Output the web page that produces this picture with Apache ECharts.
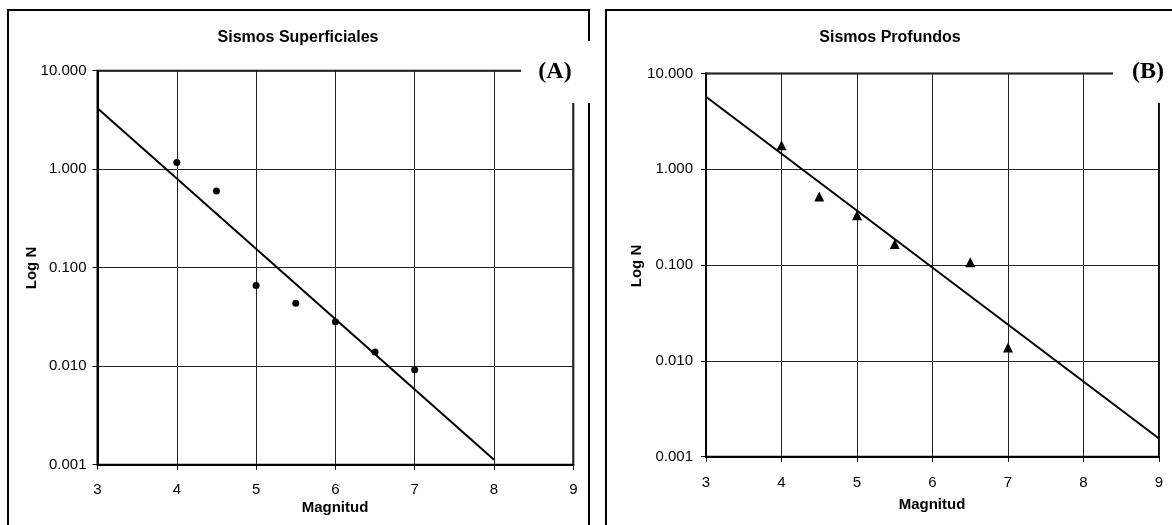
<!DOCTYPE html>
<html><head><meta charset="utf-8">
<script src="https://cdn.jsdelivr.net/npm/echarts@6/dist/echarts.min.js"></script>
<style>html,body{margin:0;padding:0;background:#fff}#c{width:1172px;height:525px}</style>
</head><body><div id="c"></div>
<script>
// Panel A: Sismos Superficiales
const magA = [4, 4.5, 5, 5.5, 6, 6.5, 7];
const nA = [1.17, 0.60, 0.066, 0.0435, 0.0282, 0.0139, 0.0092];
const trendA = [[3, 4.15], [8, 0.00112]];
// Panel B: Sismos Profundos
const magB = [4, 4.5, 5, 5.5, 6.5, 7];
const nB = [1.78, 0.52, 0.33, 0.166, 0.107, 0.0138];
const trendB = [[3, 5.7], [9, 0.00155]];
const yTicks = [0.001, 0.01, 0.1, 1, 10];
const titles = ['Sismos Superficiales', 'Sismos Profundos'];
const tags = ['(A)', '(B)'];

const FONT = 'Liberation Sans, Arial, sans-serif';
const chart = echarts.init(document.getElementById('c'));
function xAx(i) {
  return {
    type: 'value', gridIndex: i, min: 3, max: 9, interval: 1,
    axisLine: {show: true, lineStyle: {color: '#000', width: 2}},
    axisTick: {show: true, length: 5, lineStyle: {color: '#000'}},
    axisLabel: {color: '#000', fontSize: 15, fontFamily: FONT, margin: i === 0 ? 18 : 19},
    splitLine: {show: true, lineStyle: {color: '#222', width: 1}}
  };
}
function yAx(i) {
  return {
    type: 'log', logBase: 10, gridIndex: i, min: yTicks[0], max: yTicks[yTicks.length - 1],
    axisLine: {show: true, lineStyle: {color: '#000', width: 2}},
    axisTick: {show: true, length: 5, lineStyle: {color: '#000'}},
    axisLabel: {color: '#000', fontSize: 15, fontFamily: FONT, margin: i === 0 ? 11 : 13,
      formatter: v => Number(v).toFixed(3)},
    splitLine: {show: true, lineStyle: {color: '#222', width: 1}},
    minorTick: {show: false}
  };
}
const txt = (x, y, s, font, extra) => Object.assign({
  type: 'text', x, y, z: 100,
  style: {text: s, font, fill: '#000', textAlign: 'center', textVerticalAlign: 'middle'}
}, extra || {});

chart.setOption({
  animation: false,
  grid: [
    {left: 97.5, top: 70.7, width: 475.8, height: 394, show: true, borderColor: '#000', borderWidth: 2},
    {left: 706, top: 73.4, width: 453, height: 383.3, show: true, borderColor: '#000', borderWidth: 2}
  ],
  xAxis: [xAx(0), xAx(1)],
  yAxis: [yAx(0), yAx(1)],
  series: [
    {type: 'line', xAxisIndex: 0, yAxisIndex: 0, data: trendA, showSymbol: false,
      lineStyle: {color: '#000', width: 2}},
    {type: 'scatter', xAxisIndex: 0, yAxisIndex: 0, data: magA.map((m, k) => [m, nA[k]]),
      symbol: 'circle', symbolSize: 7, itemStyle: {color: '#000', opacity: 1}},
    {type: 'line', xAxisIndex: 1, yAxisIndex: 1, data: trendB, showSymbol: false,
      lineStyle: {color: '#000', width: 2}},
    {type: 'scatter', xAxisIndex: 1, yAxisIndex: 1, data: magB.map((m, k) => [m, nB[k]]),
      symbol: 'triangle', symbolSize: 10, itemStyle: {color: '#000', opacity: 1}}
  ],
  graphic: [
    {type: 'rect', z: 90, shape: {x: 8, y: 10, width: 581, height: 540},
      style: {fill: null, stroke: '#000', lineWidth: 2}},
    {type: 'rect', z: 90, shape: {x: 606, y: 10, width: 580, height: 540},
      style: {fill: null, stroke: '#000', lineWidth: 2}},
    {type: 'rect', z: 95, shape: {x: 521, y: 41, width: 76, height: 62}, style: {fill: '#fff'}},
    {type: 'rect', z: 95, shape: {x: 1113, y: 41, width: 60, height: 62}, style: {fill: '#fff'}},
    txt(555, 72, tags[0], 'bold 24px "Liberation Serif", serif'),
    txt(1148, 72, tags[1], 'bold 24px "Liberation Serif", serif'),
    txt(298, 38, titles[0], 'bold 16px ' + FONT),
    txt(890, 38, titles[1], 'bold 16px ' + FONT),
    txt(335, 508, 'Magnitud', 'bold 15px ' + FONT),
    txt(932, 505, 'Magnitud', 'bold 15px ' + FONT),
    txt(32, 268, 'Log N', 'bold 15px ' + FONT, {rotation: Math.PI / 2}),
    txt(637, 266, 'Log N', 'bold 15px ' + FONT, {rotation: Math.PI / 2})
  ]
});
</script></body></html>
